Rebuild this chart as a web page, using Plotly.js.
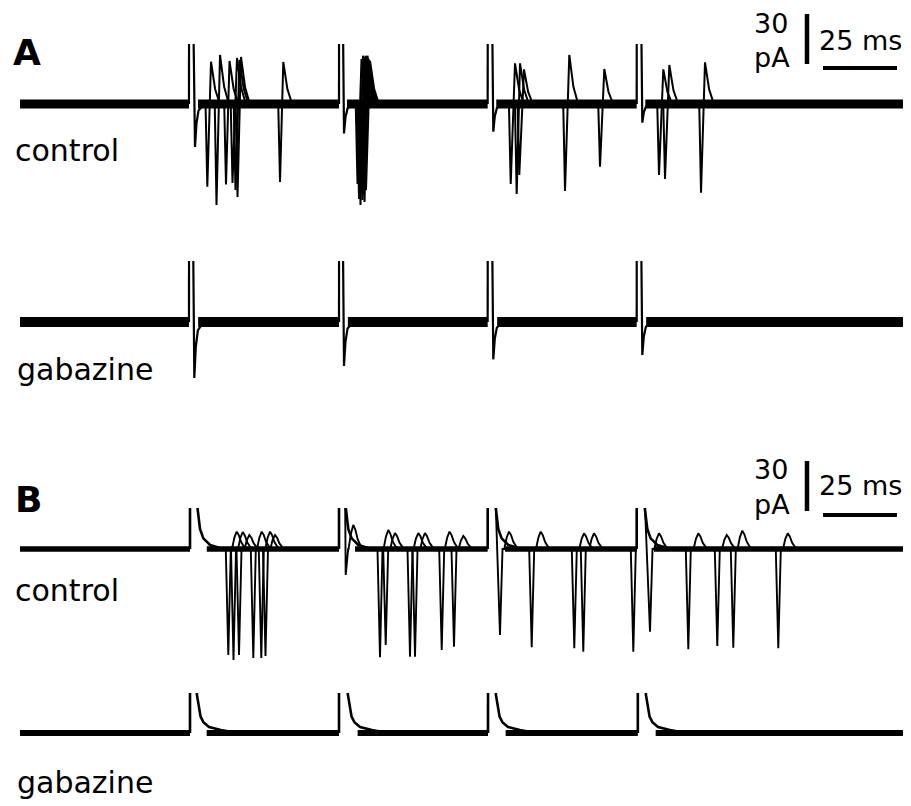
<!DOCTYPE html>
<html><head><meta charset="utf-8">
<script src="https://cdn.plot.ly/plotly-3.0.1.min.js"></script>
<style>html,body{margin:0;padding:0;background:#fff;}#chart{width:911px;height:806px;}</style>
</head><body><div id="chart"></div>
<script>
// ================= DATA (time in ms, current in pA, relative to baseline) =================
const sweepStartMs = 0;
const sweepEndMs = 298.3;
const artifactSaturationPA = 80;          // artifact goes off-scale (clipped)
const scaleBarPA = 30;
const scaleBarMs = 25;

// ---- Panel A: stimulus artifacts ----
const stimUpA = [57.09, 107.77, 158.0, 208.34];
const stimDownA = [58.34, 108.95, 159.36, 209.70];
const artTroughTimeCtlA = [59.12, 109.46, 159.9, 210.24];
const artTroughDepthCtlA = [25.8, 17.7, 16.6, 11.2];
const artTroughTimeGabA = [58.89, 109.46, 159.9, 210.24];
const artTroughDepthGabA = [33.6, 26.4, 22.4, 19.8];
const artRecoveryMs = [0, 0.5, 1.2, 2.6, 4.5];
const artRecoveryFrac = [1, 0.45, 0.15, 0.04, 0];

// ---- Panel A control: action currents (trough then peak) ----
const spikeTroughA = [63.28, 66.39, 69.59, 71.79, 73.48, 72.80, 87.84,
  114.02, 114.53, 115.03, 115.37, 115.71, 116.05, 116.39, 116.89,
  165.78, 167.80, 168.68, 184.12, 195.95,
  215.88, 217.91, 230.07];
const spikeDepthA = [49.6, 60.6, 48.3, 47.4, 55.8, 51.6, 46.8,
  48, 57, 60.6, 52.8, 57.6, 54, 58.8, 51.6,
  48, 54, 42.6, 52.2, 37.6,
  42.6, 45, 53.2];
const spikePeakA = [64.53, 67.57, 70.78, 73.31, 74.66, 74.16, 88.95,
  115.37, 115.88, 116.39, 116.72, 117.06, 117.40, 117.74, 118.24,
  167.23, 168.92, 170.27, 185.57, 197.40,
  217.33, 219.36, 231.42];
const spikeHeightA = [25.4, 29.4, 25.8, 27.6, 28.2, 26.4, 25.2,
  27, 29, 28, 29, 28.5, 29, 27, 26,
  24.4, 24.4, 20.8, 29.4, 21,
  20.8, 23.4, 25];
const spikePreMsA = -0.6;
const spikeTailMsA = [0.6, 1.4, 3.0];
const spikeTailFracA = [0.7, 0.35, 0];

// ---- Panel B: stimulus artifacts and decays ----
const stimUpB = [57.43, 107.77, 158.0, 208.34];
const decayStartCtlB = [59.70, 109.80, 160.47, 210.81];
const stimUpGabB = [57.43, 107.77, 158.11, 208.72];
const decayStartGabB = [59.46, 110.47, 160.47, 211.15];
const decayCtlMs = [0, 0.3, 1.11, 2.24, 3.38, 4.5, 6.76, 7.9, 11.3];
const decayCtlPA = [40, 24, 12, 6.4, 4.4, 2.4, 1.2, 0.4, 0];
const decayGabMs = [0, 0.3, 1.55, 2.5, 4.4, 8.4, 14];
const decayGabPA = [40, 23, 9.8, 6.5, 3.6, 1.8, 0];

// ---- Panel B control: action currents ----
const spikeTroughB = [70.37, 72.13, 73.99, 78.82, 81.52, 82.94,
  121.62, 123.55, 131.76, 133.45, 142.47, 146.62,
  172.87, 187.26, 190.30, 207.20,
  225.78, 235.57, 240.98, 256.18];
const spikeDepthB = [63.6, 66.6, 63.6, 65.4, 65.4, 64.2,
  65, 57.6, 64.6, 64.6, 60.6, 58.6,
  59, 59.6, 61.6, 61.6,
  60.2, 58.2, 59.2, 59.6];
const spikePeakB = [73.21, 75.24, 77.47, 81.66, 84.46, 86.15,
  124.42, 126.69, 134.56, 136.82, 145.10, 149.76,
  175.91, 190.54, 193.92, null,
  229.16, 238.75, 244.02, 259.36];
const spikeHeightB = [10.4, 10.2, 8.4, 10.4, 10.4, 8.4,
  11.4, 9.6, 9.6, 9.6, 10.4, 7.8,
  10.4, 9.4, 9.4, null,
  9.4, 8.4, 11, 9.4];
// spikes riding directly on the artifact
const earlyStimIndexB = [1, 2, 3];
const earlyTroughB = [110.03, 162.16, 212.84];
const earlyDepthB = [15.6, 51.6, 49.6];
const earlyPeakB = [112.60, 165.20, 215.88];
const earlyHeightB = [14.4, 10.4, 9.4];
const troughHalfMsB = 0.85;
const humpMsB = [-1.6, -0.8, 0, 0.7, 1.5, 2.6, 3.6];
const humpFracB = [0, 0.65, 1, 0.8, 0.4, 0.1, 0];

// ================= LAYOUT GEOMETRY =================
const W = 911, H = 806;
const PX_PER_MS = 2.96, X0_PX = 20;
const PX_PER_PA = 50 / 30;
const COLOR = '#000';
const FONT = 'DejaVu Sans';

function yAx(topPx, basePx, botPx) {
  return {domain: [1 - botPx / H, 1 - topPx / H],
          range: [-(botPx - basePx) / PX_PER_PA, (basePx - topPx) / PX_PER_PA],
          visible: false, fixedrange: true, anchor: 'x'};
}

// ================= BUILDERS =================
function band(stimUp, resume, yaxis, width) {
  const x = [], y = [];
  let s = sweepStartMs;
  for (let i = 0; i < stimUp.length; i++) {
    x.push(s, stimUp[i], null); y.push(0, 0, null);
    s = resume[i];
  }
  x.push(s, sweepEndMs); y.push(0, 0);
  return {x, y, yaxis, type: 'scatter', mode: 'lines', hoverinfo: 'skip',
          line: {color: COLOR, width: width}};
}

function artifactsA(troughT, troughD, yaxis) {
  const x = [], y = [];
  for (let i = 0; i < stimUpA.length; i++) {
    x.push(stimUpA[i], stimUpA[i] + 0.02, null, stimDownA[i]);
    y.push(0, artifactSaturationPA, null, artifactSaturationPA);
    for (let j = 0; j < artRecoveryMs.length; j++) {
      x.push(troughT[i] + artRecoveryMs[j]);
      y.push(-troughD[i] * artRecoveryFrac[j]);
    }
    x.push(null); y.push(null);
  }
  return {x, y, yaxis, type: 'scatter', mode: 'lines', hoverinfo: 'skip',
          line: {color: COLOR, width: 2.2}};
}

function spikesA() {
  const x = [], y = [];
  for (let i = 0; i < spikeTroughA.length; i++) {
    const t = spikeTroughA[i], p = spikePeakA[i], h = spikeHeightA[i];
    x.push(t + spikePreMsA, t, p); y.push(0, -spikeDepthA[i], h);
    for (let j = 0; j < spikeTailMsA.length; j++) { x.push(p + spikeTailMsA[j]); y.push(h * spikeTailFracA[j]); }
    x.push(null); y.push(null);
  }
  return {x, y, yaxis: 'y', type: 'scatter', mode: 'lines', hoverinfo: 'skip',
          line: {color: COLOR, width: 2}};
}

function artifactsB(stimUp, decayStart, dMs, dPA, yaxis) {
  const x = [], y = [];
  for (let i = 0; i < stimUp.length; i++) {
    x.push(stimUp[i], stimUp[i] + 0.02, null);
    y.push(0, artifactSaturationPA, null);
    for (let j = 0; j < dMs.length; j++) { x.push(decayStart[i] + dMs[j]); y.push(dPA[j]); }
    x.push(null); y.push(null);
  }
  return {x, y, yaxis, type: 'scatter', mode: 'lines', hoverinfo: 'skip',
          line: {color: COLOR, width: 2.6}};
}

function pushHump(x, y, p, h) {
  if (p === null || h === null) return;
  for (let j = 0; j < humpMsB.length; j++) { x.push(p + humpMsB[j]); y.push(h * humpFracB[j]); }
}

function spikesB() {
  const x = [], y = [];
  for (let i = 0; i < spikeTroughB.length; i++) {
    const t = spikeTroughB[i];
    x.push(t - troughHalfMsB, t, t + troughHalfMsB); y.push(0, -spikeDepthB[i], 0);
    pushHump(x, y, spikePeakB[i], spikeHeightB[i]);
    x.push(null); y.push(null);
  }
  for (let i = 0; i < earlyTroughB.length; i++) {
    const t = earlyTroughB[i];
    x.push(decayStartCtlB[earlyStimIndexB[i]], t, t + troughHalfMsB);
    y.push(artifactSaturationPA * 0.5, -earlyDepthB[i], 0);
    pushHump(x, y, earlyPeakB[i], earlyHeightB[i]);
    x.push(null); y.push(null);
  }
  return {x, y, yaxis: 'y3', type: 'scatter', mode: 'lines', hoverinfo: 'skip',
          line: {color: COLOR, width: 1.9}};
}

function scaleBars(tV, vBottom, tH, vH) {
  return [
    {x: [tV, tV], y: [vBottom, vBottom + scaleBarPA], yaxis: 'y5', type: 'scatter', mode: 'lines',
     hoverinfo: 'skip', line: {color: COLOR, width: 4.5}},
    {x: [tH, tH + scaleBarMs], y: [vH, vH], yaxis: 'y5', type: 'scatter', mode: 'lines',
     hoverinfo: 'skip', line: {color: COLOR, width: 4.2}}
  ];
}

// ================= TRACES =================
const resumeCtlA = artTroughTimeCtlA.map(t => t + 1.0);
const resumeGabA = artTroughTimeGabA.map(t => t + 1.3);
const resumeCtlB = decayStartCtlB.map(t => t + 3.4);
const resumeGabB = decayStartGabB.map(t => t + 3.6);

const vOf = px => (H - px) / PX_PER_PA;          // overlay axis (whole page) units
const tOf = px => (px - X0_PX) / PX_PER_MS;

const traces = [
  band(stimUpA, resumeCtlA, 'y', 9),
  artifactsA(artTroughTimeCtlA, artTroughDepthCtlA, 'y'),
  spikesA(),
  band(stimUpA, resumeGabA, 'y2', 10),
  artifactsA(artTroughTimeGabA, artTroughDepthGabA, 'y2'),
  band(stimUpB, resumeCtlB, 'y3', 5.5),
  artifactsB(stimUpB, decayStartCtlB, decayCtlMs, decayCtlPA, 'y3'),
  spikesB(),
  band(stimUpGabB, resumeGabB, 'y4', 6),
  artifactsB(stimUpGabB, decayStartGabB, decayGabMs, decayGabPA, 'y4'),
  ...scaleBars(tOf(807), vOf(64), tOf(823), vOf(68)),
  ...scaleBars(tOf(807), vOf(511), tOf(823), vOf(515))
];

// ================= ANNOTATIONS =================
function ann(text, xPx, yCenterPx, size) {
  return {text, xref: 'paper', yref: 'paper', x: xPx / W, y: 1 - yCenterPx / H,
          xanchor: 'left', yanchor: 'middle', showarrow: false,
          font: {family: FONT, size: size, color: COLOR}};
}
const annotations = [
  ann('<b>A</b>', 11, 52.5, 36),
  ann('control', 13, 150.3, 30),
  ann('gabazine', 15, 369.6, 30),
  ann('30', 752, 23.7, 27),
  ann('pA', 752, 57.4, 27),
  ann('25 ms', 817, 40.7, 27),
  ann('<b>B</b>', 13, 499.2, 36),
  ann('control', 13, 590.6, 30),
  ann('gabazine', 15, 782.6, 30),
  ann('30', 752, 469, 27),
  ann('pA', 752, 504, 27),
  ann('25 ms', 817, 485.7, 27)
];

const layout = {
  width: W, height: H,
  margin: {l: 0, r: 0, t: 0, b: 0, pad: 0},
  paper_bgcolor: '#fff', plot_bgcolor: 'rgba(0,0,0,0)',
  showlegend: false,
  xaxis: {range: [-X0_PX / PX_PER_MS, (W - X0_PX) / PX_PER_MS], domain: [0, 1],
          visible: false, fixedrange: true},
  yaxis: yAx(44, 104, 230),
  yaxis2: yAx(261, 322, 400),
  yaxis3: yAx(508, 549, 675),
  yaxis4: yAx(693, 733, 760),
  yaxis5: {domain: [0, 1], range: [0, H / PX_PER_PA], visible: false, fixedrange: true, anchor: 'x'},
  annotations
};

Plotly.newPlot('chart', traces, layout, {staticPlot: true, displayModeBar: false});
</script></body></html>
